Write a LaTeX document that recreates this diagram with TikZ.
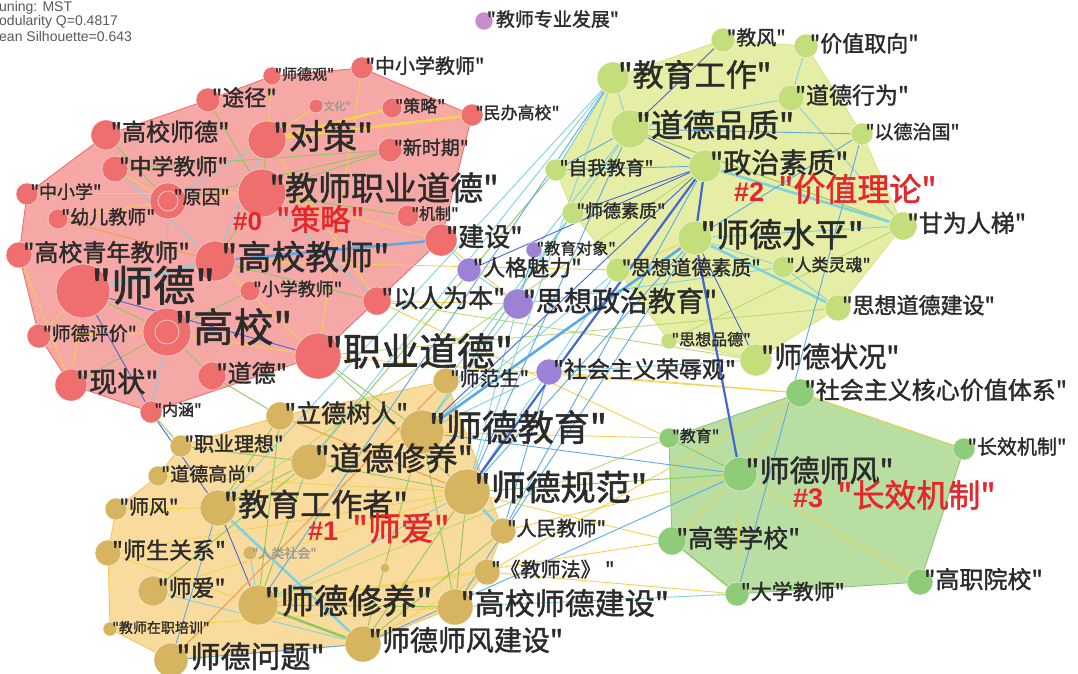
\documentclass[tikz,border=0pt]{standalone}
\usepackage{fontspec}
\setmainfont{Noto Sans CJK SC}[Ligatures=TeXOff, FakeBold=1.5]
\newfontfamily\latf{Liberation Sans}
\usetikzlibrary{calc}
\pgfdeclarelayer{hulls}
\pgfdeclarelayer{edges}
\pgfdeclarelayer{labs}
\pgfsetlayers{hulls,edges,main,labs}
\definecolor{cz}{HTML}{EF6E6E}
\definecolor{hz}{HTML}{F5A8A6}
\definecolor{hzb}{HTML}{F26464}
\definecolor{co}{HTML}{D6B460}
\definecolor{ho}{HTML}{FADB9E}
\definecolor{hob}{HTML}{F7C050}
\definecolor{ct}{HTML}{C4DE7C}
\definecolor{ht}{HTML}{E6EEA6}
\definecolor{htb}{HTML}{D6E27A}
\definecolor{cg}{HTML}{8FCC78}
\definecolor{hg}{HTML}{B9DEA2}
\definecolor{hgb}{HTML}{86C46A}
\definecolor{cp}{HTML}{9C82D4}
\definecolor{cpk}{HTML}{C98BC9}
\definecolor{labc}{HTML}{2B2B2B}
\definecolor{redl}{HTML}{E5262B}
\definecolor{ky}{HTML}{F3D34A}
\definecolor{kg}{HTML}{8DC95C}
\definecolor{klg}{HTML}{B9DA6E}
\definecolor{kc}{HTML}{80D2DE}
\definecolor{kb}{HTML}{5AA9E8}
\definecolor{kd}{HTML}{4466D4}
\definecolor{ko}{HTML}{F1A04C}
\tikzset{
  kwlab/.style={anchor=west, inner sep=0pt, text=labc},
  kwdot/.style={circle, inner sep=0pt, draw=white, draw opacity=0.7, line width=0.5pt},
  edy/.style={draw=ky, line width=0.9pt},
  edyt/.style={draw=ky, line width=2.4pt},
  edg/.style={draw=kg, line width=0.9pt},
  edgt/.style={draw=kg, line width=2.4pt},
  edlg/.style={draw=klg, line width=0.9pt},
  edc/.style={draw=kc, line width=0.9pt},
  edct/.style={draw=kc, line width=2.6pt},
  edb/.style={draw=kb, line width=0.9pt},
  edbt/.style={draw=kb, line width=2.6pt},
  edd/.style={draw=kd, line width=0.9pt},
  eddt/.style={draw=kd, line width=2.2pt},
  edo/.style={draw=ko, line width=1.1pt},
  hullz/.style={fill=hz, draw=hzb, line width=0.8pt},
  hullo/.style={fill=ho, draw=hob, line width=0.8pt},
  hullt/.style={fill=ht, draw=htb, line width=0.8pt},
  hullg/.style={fill=hg, draw=hgb, line width=0.8pt},
  clab/.style={anchor=west, inner sep=0pt, text=redl},
  info/.style={anchor=west, inner sep=0pt, text=black!65, font=\latf\fontsize{14}{14}\selectfont}
}
\newcommand\kwn[7]{%
  \node[kwdot, fill=#5, minimum size={2*#4pt}] (#1) at (#2,#3) {};
  \begin{pgfonlayer}{labs}
  \node[kwlab, font=\fontsize{#6}{#6}\selectfont] at ([xshift={0.3*#4pt}, yshift={0.22*#4pt}]#1.center) {"#7"};
  \end{pgfonlayer}
}
\begin{document}
\begin{tikzpicture}[x=1pt,y=-1pt]
\useasboundingbox (0,0) rectangle (1078,674);
\clip (0,0) rectangle (1078,674);

% ---------- cluster 0 ----------
\kwn{A1}{272}{76}{9}{cz}{15}{师德观}
\kwn{A2}{362}{68}{11}{cz}{20}{中小学教师}
\kwn{A3}{208}{100}{12}{cz}{22}{途径}
\node[kwdot, fill=cz, minimum size=14pt] (A4) at (316,106) {};
\begin{pgfonlayer}{labs}\node[kwlab, text=black!40, font=\fontsize{11}{11}\selectfont] at ([xshift=2pt]A4.center) {"文化"};\end{pgfonlayer}
\kwn{A5}{392}{108}{10}{cz}{17}{策略}
\kwn{A6}{472}{115}{11}{cz}{17}{民办高校}
\kwn{A7}{106}{135}{15}{cz}{24}{高校师德}
\kwn{A8}{267}{140}{19}{cz}{34}{对策}
\kwn{A9}{390}{150}{12}{cz}{19}{新时期}
\kwn{A10}{115}{169}{13}{cz}{22}{中学教师}
\kwn{A11}{27}{194}{11}{cz}{18}{中小学}
\kwn{A12}{168}{201}{18}{cz}{19}{原因}
\kwn{A13}{262}{193}{24}{cz}{33}{教师职业道德}
\kwn{A14}{58}{219}{10}{cz}{19}{幼儿教师}
\kwn{A15}{408}{216}{11}{cz}{16}{机制}
\kwn{A16}{441}{240}{16}{cz}{26}{建设}
\kwn{A17}{19}{255}{13}{cz}{24}{高校青年教师}
\kwn{A18}{215}{261}{20}{cz}{34}{高校教师}
\kwn{A19}{83}{291}{27}{cz}{42}{师德}
\kwn{A20}{250}{291}{10}{cz}{18}{小学教师}
\kwn{A21}{377}{301}{14}{cz}{25}{以人为本}
\kwn{A22}{167}{332}{24}{cz}{40}{高校}
\kwn{A23}{39}{336}{12}{cz}{19}{师德评价}
\kwn{A24}{318}{356}{23}{cz}{38}{职业道德}
\kwn{A25}{71}{385}{16}{cz}{28}{现状}
\kwn{A26}{212}{376}{14}{cz}{24}{道德}
\kwn{A27}{151}{412}{11}{cz}{16}{内涵}
\draw[white, opacity=0.6, line width=0.8pt] (A12) circle[radius=10pt];
\draw[white, opacity=0.6, line width=0.8pt] (A22) circle[radius=12pt];

% ---------- cluster 1 ----------
\kwn{B1}{446}{381}{13}{co}{20}{师范生}
\kwn{B2}{280}{416}{14}{co}{25}{立德树人}
\kwn{B3}{422}{432}{22}{co}{36}{师德教育}
\kwn{B4}{181}{446}{11}{co}{20}{职业理想}
\kwn{B5}{309}{462}{18}{co}{32}{道德修养}
\kwn{B6}{158}{476}{10}{co}{19}{道德高尚}
\kwn{B7}{467}{492}{23}{co}{35}{师德规范}
\kwn{B8}{116}{509}{11}{co}{20}{师风}
\kwn{B9}{218}{508}{18}{co}{31}{教育工作者}
\kwn{B10}{108}{553}{13}{co}{23}{师生关系}
\node[kwdot, fill=co, minimum size=14pt] (B11) at (250,553) {};
\begin{pgfonlayer}{labs}\node[kwlab, text=black!40, font=\fontsize{13}{13}\selectfont] at ([xshift=2pt]B11.center) {"人类社会"};\end{pgfonlayer}
\kwn{B12}{503}{531}{13}{co}{20}{人民教师}
\node[kwdot, fill=co, minimum size=10pt] (B13) at (385,568) {};
\kwn{B14}{153}{591}{15}{co}{23}{师爱}
\kwn{B15}{487}{572}{13}{co}{20}{《教师法》 }
\kwn{B16}{258}{605}{20}{co}{34}{师德修养}
\kwn{B17}{455}{607}{18}{co}{30}{高校师德建设}
\kwn{B18}{110}{629}{7}{co}{14}{教师在职培训}
\kwn{B19}{171}{660}{17}{co}{30}{师德问题}
\kwn{B20}{363}{644}{18}{co}{28}{师德师风建设}

% ---------- cluster 2 ----------
\kwn{C1}{723}{40}{12}{ct}{20}{教风}
\kwn{C2}{806}{46}{12}{ct}{22}{价值取向}
\kwn{C3}{613}{78}{16}{ct}{31}{教育工作}
\kwn{C4}{791}{98}{13}{ct}{23}{道德行为}
\kwn{C5}{630}{129}{19}{ct}{32}{道德品质}
\kwn{C6}{862}{134}{11}{ct}{19}{以德治国}
\kwn{C7}{705}{166}{16}{ct}{28}{政治素质}
\kwn{C8}{556}{170}{11}{ct}{19}{自我教育}
\kwn{C9}{573}{213}{11}{ct}{18}{师德素质}
\kwn{C10}{903}{226}{14}{ct}{24}{甘为人梯}
\kwn{C11}{695}{238}{17}{ct}{33}{师德水平}
\kwn{C12}{618}{270}{12}{ct}{20}{思想道德素质}
\kwn{C13}{783}{267}{11}{ct}{17}{人类灵魂}
\kwn{C14}{838}{308}{13}{ct}{22}{思想道德建设}
\kwn{C15}{669}{341}{8}{ct}{16}{思想品德}
\kwn{C16}{756}{360}{16}{ct}{28}{师德状况}

% ---------- purple ----------
\kwn{D0}{484}{21}{9}{cpk}{19}{教师专业发展}
\kwn{D1}{534}{250}{8}{cp}{16}{教育对象}
\kwn{D2}{469}{270}{12}{cp}{22}{人格魅力}
\kwn{D3}{518}{304}{15}{cp}{28}{思想政治教育}
\kwn{D4}{549}{372}{13}{cp}{23}{社会主义荣辱观}

% ---------- cluster 3 ----------
\kwn{E1}{800}{393}{14}{cg}{24}{社会主义核心价值体系}
\kwn{E2}{669}{438}{10}{cg}{16}{教育}
\kwn{E3}{964}{449}{11}{cg}{20}{长效机制}
\kwn{E4}{740}{474}{17}{cg}{30}{师德师风}
\kwn{E5}{672}{541}{14}{cg}{25}{高等学校}
\kwn{E6}{737}{594}{12}{cg}{21}{大学教师}
\kwn{E7}{920}{582}{13}{cg}{24}{高职院校}

% ---------- hulls ----------
\begin{pgfonlayer}{hulls}
\path[hullz] (A11.center) -- (A7.center) -- (A3.center) -- (A1.center) -- (A2.center) -- (A6.center) -- (A16.center) -- (A24.center) -- (A27.center) -- (A25.center) -- (A23.center) -- (A17.center) -- cycle;
\path[hullo] (B1.center) -- (B12.center) -- (B15.center) -- (B17.center) -- (B20.center) -- (B19.center) -- (B18.center) -- (B10.center) -- (B8.center) -- (B6.center) -- (B4.center) -- (B2.center) -- cycle;
\path[hullt] (C1.center) -- (C2.center) -- (C6.center) -- (C10.center) -- (C14.center) -- (C16.center) -- (C15.center) -- (C12.center) -- (C9.center) -- (C8.center) -- (C3.center) -- cycle;
\path[hullg] (E1.center) -- (E3.center) -- (E7.center) -- (E6.center) -- (E5.center) -- (E2.center) -- cycle;
\end{pgfonlayer}

% ---------- edges ----------
\begin{pgfonlayer}{edges}
\foreach \a/\b in {A1/A8,A2/A24,A4/A8,A11/A13,A17/A25,A22/A24,A23/A22,A13/A16,A18/A24,A21/A8,A10/A12,A21/D3,A18/C12,A24/E1,B3/B9,B7/B14,B10/B7,B8/B9,B6/B7,B18/B17,B15/B16,B20/E1,B15/E6,D4/E1,E4/E5,E4/E6,E4/E7,E1/E3,E1/E4,E5/B7,E2/B3,A16/D3,B16/E5,C11/C12,A19/A23,A12/A13,A25/A19,B10/B16,A14/A12,A21/E2,B12/E4}
  \draw[edy] (\a) -- (\b);
\foreach \a/\b in {A5/A8,A6/A8}
  \draw[edyt] (\a) -- (\b);
\foreach \a/\b in {A3/A13,A9/A13,A9/A12,A10/A9,A22/A26,A22/A25,A18/A21,A20/A22,A15/A13,A7/A12,A24/B3,A26/B2,A24/B7,B2/B16,B2/B9,B5/B9,B5/B16,B5/B7,B3/B20,B7/B17,B7/B20,B16/B17,B4/B5,B14/B5,B20/B12,B17/B3,B7/E4,C5/C10,E4/E2,E5/E6,A19/A22,A27/B4,A8/A13,A13/A18,B3/C9,B5/C8}
  \draw[edg] (\a) -- (\b);
\draw[edgt] (B16) -- (B20);
\foreach \a/\b in {A21/C16,B16/E2,C10/C15,A24/C14,B9/C7}
  \draw[edlg] (\a) -- (\b);
\foreach \a/\b in {A12/A22,A12/A8,A8/A18,A22/A27,A13/A21,A16/D2,B7/B16,B11/B16,B3/C12,B3/D4,B7/C3,B17/E6,B7/D3,D3/B3,C3/C5,C2/C4,C4/C5,C4/C10,C11/C10,C11/C13,C13/C14,C3/C8,C13/D3,C16/D4,D2/D3,C5/D1,C3/B9,A10/A18,B14/B20,B3/C5,B5/C3,B7/C12,B1/C9}
  \draw[edc] (\a) -- (\b);
\foreach \a/\b in {A19/A18,C7/C10,C11/C14,B7/B12,B9/B20}
  \draw[edct] (\a) -- (\b);
\foreach \a/\b in {C5/C6,C7/C8,C6/C11,C6/E6,C5/C8,C3/B16,B7/C5,B3/E4,B17/C11,B12/D4,D1/D3,B9/B19,B19/B20,B20/E4,B7/C11,B12/C7}
  \draw[edb] (\a) -- (\b);
\foreach \a/\b in {A18/A16,B3/C11}
  \draw[edbt] (\a) -- (\b);
\foreach \a/\b in {A19/A24,A27/B9,B9/B16,C1/C5,C5/C7,C7/C9,C11/C16,C7/D2,A19/A27,B3/C7}
  \draw[edd] (\a) -- (\b);
\foreach \a/\b in {C7/C11,B7/C7,C11/E4}
  \draw[eddt] (\a) -- (\b);
\foreach \a/\b in {A14/A18,B1/B19,B2/B7}
  \draw[edo] (\a) -- (\b);
\end{pgfonlayer}

% ---------- cluster labels ----------
\begin{pgfonlayer}{labs}
\node[clab] (L0) at (233,219) {{\latf\bfseries\fontsize{26}{26}\selectfont \#0}\hspace{14pt}{\fontsize{30}{30}\selectfont "策略"}};
\node[clab] (L1) at (308,528) {{\latf\bfseries\fontsize{27}{27}\selectfont \#1}\hspace{14pt}{\fontsize{33}{33}\selectfont "师爱"}};
\node[clab] (L2) at (734,189) {{\latf\bfseries\fontsize{27}{27}\selectfont \#2}\hspace{14pt}{\fontsize{32}{32}\selectfont "价值理论"}};
\node[clab] (L3) at (793,495) {{\latf\bfseries\fontsize{27}{27}\selectfont \#3}\hspace{14pt}{\fontsize{32}{32}\selectfont "长效机制"}};
\node[info] (I1) at (-1,8) {uning: MST};
\node[info] (I2) at (-1,22) {odularity Q=0.4817};
\node[info] (I3) at (-1,36) {ean Silhouette=0.643};
\end{pgfonlayer}
\end{tikzpicture}
\end{document}
